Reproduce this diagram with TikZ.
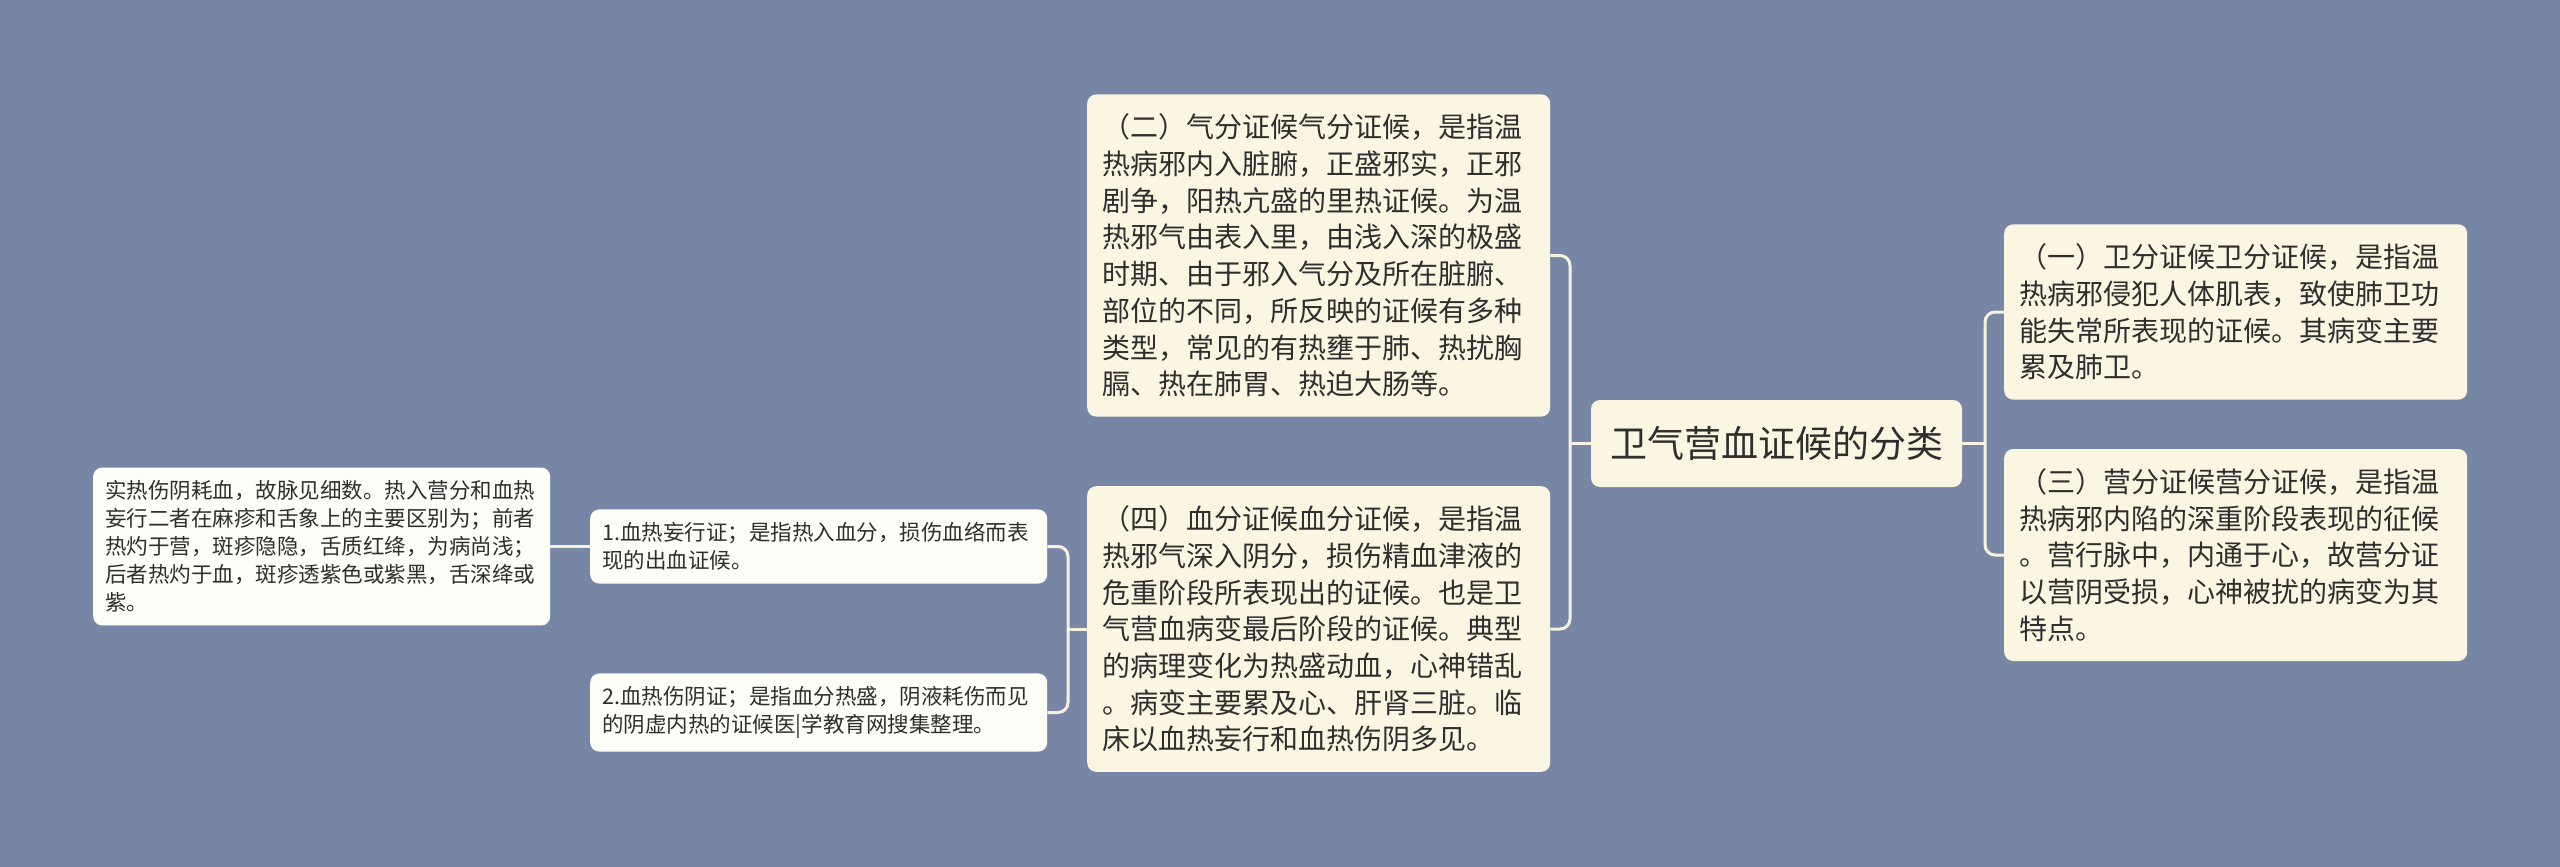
\documentclass[tikz,border=0pt]{standalone}
\usepackage{fontspec}
\setmainfont{Noto Sans CJK SC}
\usetikzlibrary{positioning}
\definecolor{bg}{HTML}{7886A6}
\definecolor{cream}{HTML}{FAF6E2}
\definecolor{paper}{HTML}{FEFEF8}
\definecolor{ink}{HTML}{2E2E2E}
\definecolor{wire}{HTML}{F6F2DF}
\tikzset{
  box/.style={rounded corners=9pt, fill=cream, text=ink, align=left, anchor=west,
    inner xsep=15pt, inner ysep=19.5pt, text width=433pt,
    font=\fontsize{28pt}{36.7pt}\selectfont},
  leaf/.style={box, fill=paper, inner xsep=12pt, inner ysep=13pt,
    font=\fontsize{21.5pt}{28pt}\selectfont},
  link/.style={draw=wire, line width=3pt, rounded corners=10pt},
}
\begin{document}
\begin{tikzpicture}[x=1pt, y=-1pt]
	\fill[bg] (0, 0) rectangle (2560, 867);

	\node[rounded corners=9pt, fill=cream, text=ink, inner xsep=19pt, minimum height=87pt,
	  font=\fontsize{37pt}{44pt}\selectfont] (root) at (1776.5, 443.5) {卫气营血证候的分类};

	\node[box] (qi) at (1087, 255.5) {（二）气分证候气分证候，是指温\\
	热病邪内入脏腑，正盛邪实，正邪\\
	剧争，阳热亢盛的里热证候。为温\\
	热邪气由表入里，由浅入深的极盛\\
	时期、由于邪入气分及所在脏腑、\\
	部位的不同，所反映的证候有多种\\
	类型，常见的有热壅于肺、热扰胸\\
	膈、热在肺胃、热迫大肠等。};
	\node[box] (xue) at (1087, 629) {（四）血分证候血分证候，是指温\\
	热邪气深入阴分，损伤精血津液的\\
	危重阶段所表现出的证候。也是卫\\
	气营血病变最后阶段的证候。典型\\
	的病理变化为热盛动血，心神错乱\\
	。病变主要累及心、肝肾三脏。临\\
	床以血热妄行和血热伤阴多见。};
	\node[box] (wei) at (2004, 312) {（一）卫分证候卫分证候，是指温\\
	热病邪侵犯人体肌表，致使肺卫功\\
	能失常所表现的证候。其病变主要\\
	累及肺卫。};
	\node[box] (ying) at (2004, 555) {（三）营分证候营分证候，是指温\\
	热病邪内陷的深重阶段表现的征候\\
	。营行脉中，内通于心，故营分证\\
	以营阴受损，心神被扰的病变为其\\
	特点。};

	\node[leaf] (wangxing) at (590, 546.5) {1.血热妄行证；是指热入血分，损伤血络而表\\
	现的出血证候。};
	\node[leaf] (shangyin) at (590, 712.5) {2.血热伤阴证；是指血分热盛，阴液耗伤而见\\
	的阴虚内热的证候医|学教育网搜集整理。};
	\node[leaf] (bie) at (93, 546.5) {实热伤阴耗血，故脉见细数。热入营分和血热\\
	妄行二者在麻疹和舌象上的主要区别为；前者\\
	热灼于营，斑疹隐隐，舌质红绛，为病尚浅；\\
	后者热灼于血，斑疹透紫色或紫黑，舌深绛或\\
	紫。};

	\coordinate (lj) at (1570, 443.5);
	\coordinate (rj) at (1985, 443.5);
	\coordinate (xj) at (1068, 629);

	\draw[link] (qi.east) -| (lj) |- (xue.east);
	\draw[link] (root.west) -- (lj);
	\draw[link] (wei.west) -| (rj) |- (ying.west);
	\draw[link] (root.east) -- (rj);
	\draw[link] (wangxing.east) -| (xj) |- (shangyin.east);
	\draw[link] (xue.west) -- (xj);
	\draw[link] (bie.east) -- (wangxing.west);

\end{tikzpicture}
\end{document}
